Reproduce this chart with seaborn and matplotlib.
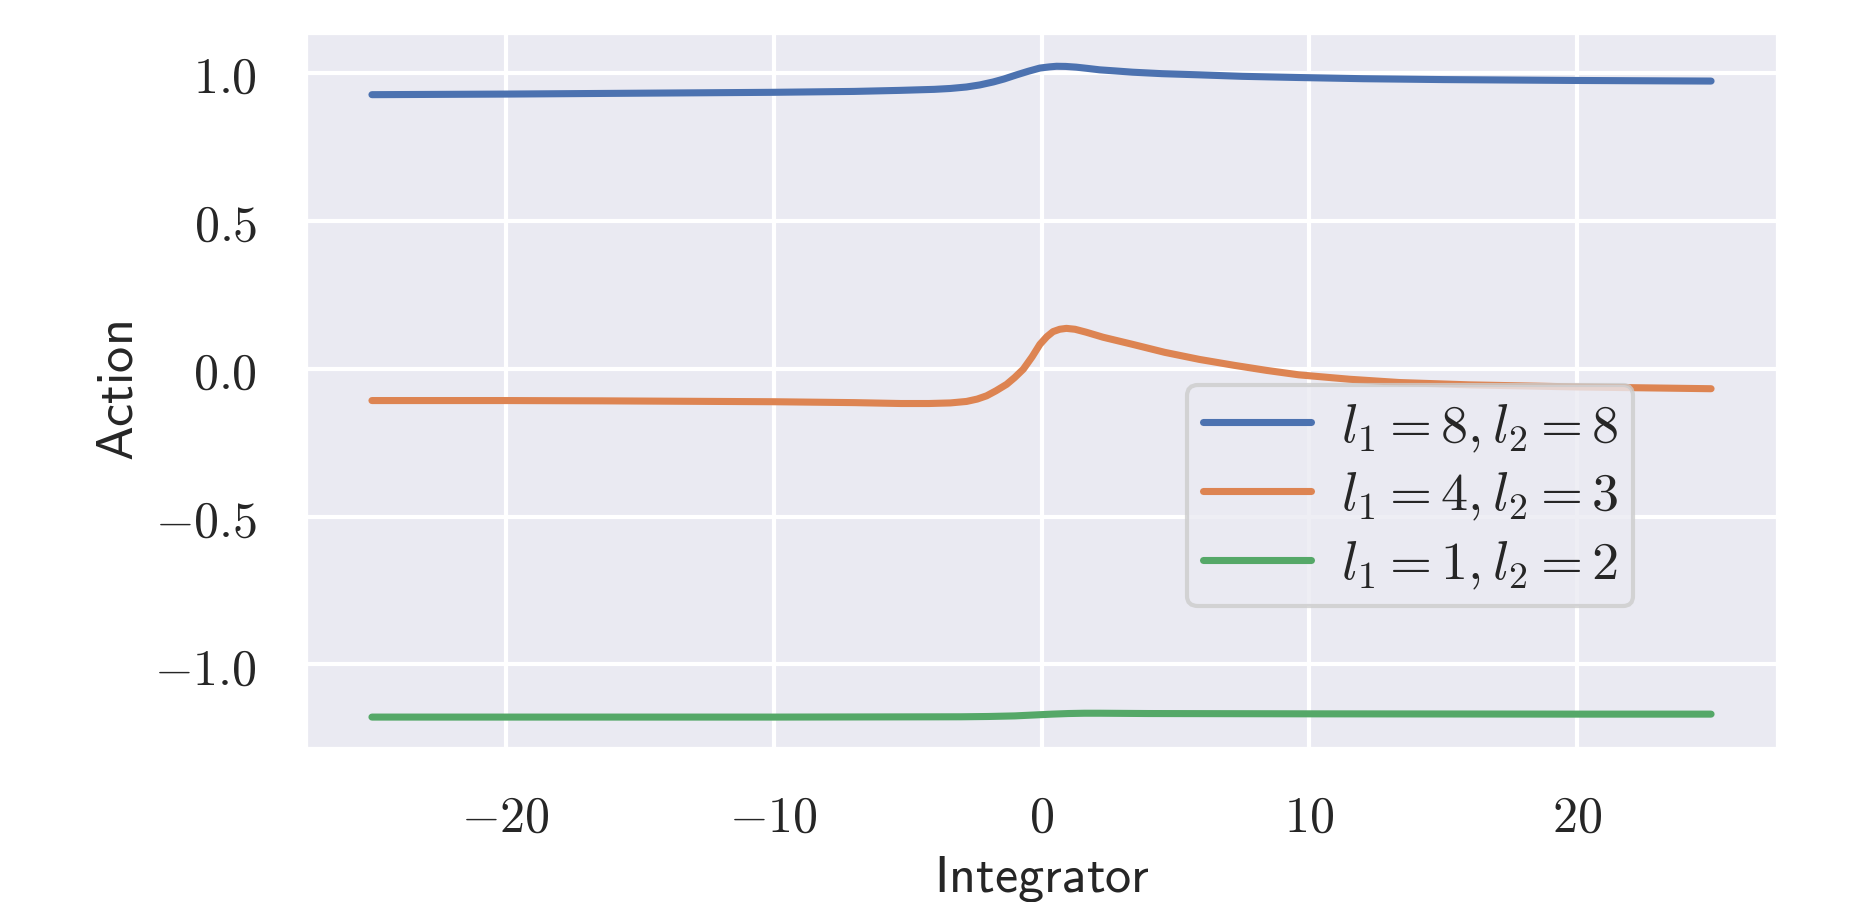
import numpy as np
import pandas as pd
import matplotlib
matplotlib.use("Agg")
import matplotlib.pyplot as plt
import seaborn as sns

# ---- data ----
x_blue = [-25, -20, -15, -10, -7, -5.3, -4, -3.4, -2.8, -2.3, -1.8, -1.4, -0.93, -0.5, -0.06, 0.3, 0.56, 0.9, 1.3, 1.7,
          2.17, 2.8, 3.4, 4.5, 5.9, 7.5, 9.6, 12, 15, 20, 25]
y_blue = [0.926, 0.928, 0.931, 0.934, 0.937, 0.9405, 0.944, 0.947, 0.952, 0.959, 0.969, 0.979, 0.993, 1.005, 1.016,
          1.020, 1.022, 1.0215, 1.019, 1.015, 1.010, 1.006, 1.002, 0.997, 0.993, 0.988, 0.984, 0.980, 0.977, 0.974, 0.972]

x_orange = [-25, -20, -16.4, -10, -7, -5.25, -4.2, -3.4, -2.8, -2.4, -2.05, -1.7, -1.3, -1.0, -0.68, -0.35, -0.06, 0.2,
            0.43, 0.68, 0.93, 1.25, 1.67, 2.3, 3.4, 4.6, 5.9, 7.2, 8.4, 9.6, 11.5, 13.35, 16, 20, 25]
y_orange = [-0.108, -0.108, -0.109, -0.112, -0.115, -0.118, -0.118, -0.116, -0.111, -0.103, -0.092, -0.075, -0.053,
            -0.030, -0.002, 0.040, 0.082, 0.108, 0.125, 0.133, 0.136, 0.133, 0.123, 0.106, 0.082, 0.055, 0.031, 0.011,
            -0.006, -0.021, -0.036, -0.047, -0.055, -0.062, -0.068]

x_green = [-25, -20, -10, -3, -2, -1, -0.3, 0.4, 1, 1.6, 2.2, 4, 10, 20, 25]
y_green = [-1.178, -1.178, -1.178, -1.177, -1.176, -1.174, -1.171, -1.168, -1.166, -1.165, -1.165, -1.166, -1.167,
           -1.168, -1.168]

labels = [r"$l_1 = 8, l_2 = 8$", r"$l_1 = 4, l_2 = 3$", r"$l_1 = 1, l_2 = 2$"]
xticks = [-20, -10, 0, 10, 20]
xtick_labels = [r"$-20$", r"$-10$", r"$0$", r"$10$", r"$20$"]
yticks = [-1.0, -0.5, 0.0, 0.5, 1.0]
ytick_labels = [r"$-1.0$", r"$-0.5$", r"$0.0$", r"$0.5$", r"$1.0$"]
x_label = r"$\mathsf{Integrator}$"
y_label = r"$\mathsf{Action}$"

sns.set_theme(context="notebook", style="darkgrid")
plt.rcParams["mathtext.fontset"] = "cm"
plt.rcParams["font.family"] = ["DejaVu Sans"]

palette = sns.color_palette("deep")

fig = plt.figure(figsize=(6.21, 3.01), dpi=300)
ax = fig.add_axes([0.1637, 0.1694, 0.9544 - 0.1637, 0.9635 - 0.1694])

series = [(x_blue, y_blue), (x_orange, y_orange), (x_green, y_green)]
for i, ((xs, ys), lab) in enumerate(zip(series, labels)):
    df = pd.DataFrame({"x": xs, "y": ys})
    sns.lineplot(data=df, x="x", y="y", ax=ax, color=palette[i], label=lab,
                 linewidth=1.7, estimator=None)

ax.set_xlim(-27.5, 27.5)
ax.set_ylim(-1.286, 1.138)
ax.set_xticks(xticks)
ax.set_xticklabels(xtick_labels, fontsize=12)
ax.set_yticks(yticks)
ax.set_yticklabels(ytick_labels, fontsize=12)
ax.tick_params(axis="x", pad=4.5)
ax.tick_params(axis="y", pad=5.5)
ax.set_xlabel(x_label, fontsize=12.5, labelpad=3)
ax.set_ylabel(y_label, fontsize=12.5, labelpad=2.5)

ax.legend(loc="lower left", bbox_to_anchor=(0.599, 0.199), borderaxespad=0,
          fontsize=13, labelspacing=0.28, handletextpad=0.55, borderpad=0.28)

fig.savefig("out.png", dpi=300)
